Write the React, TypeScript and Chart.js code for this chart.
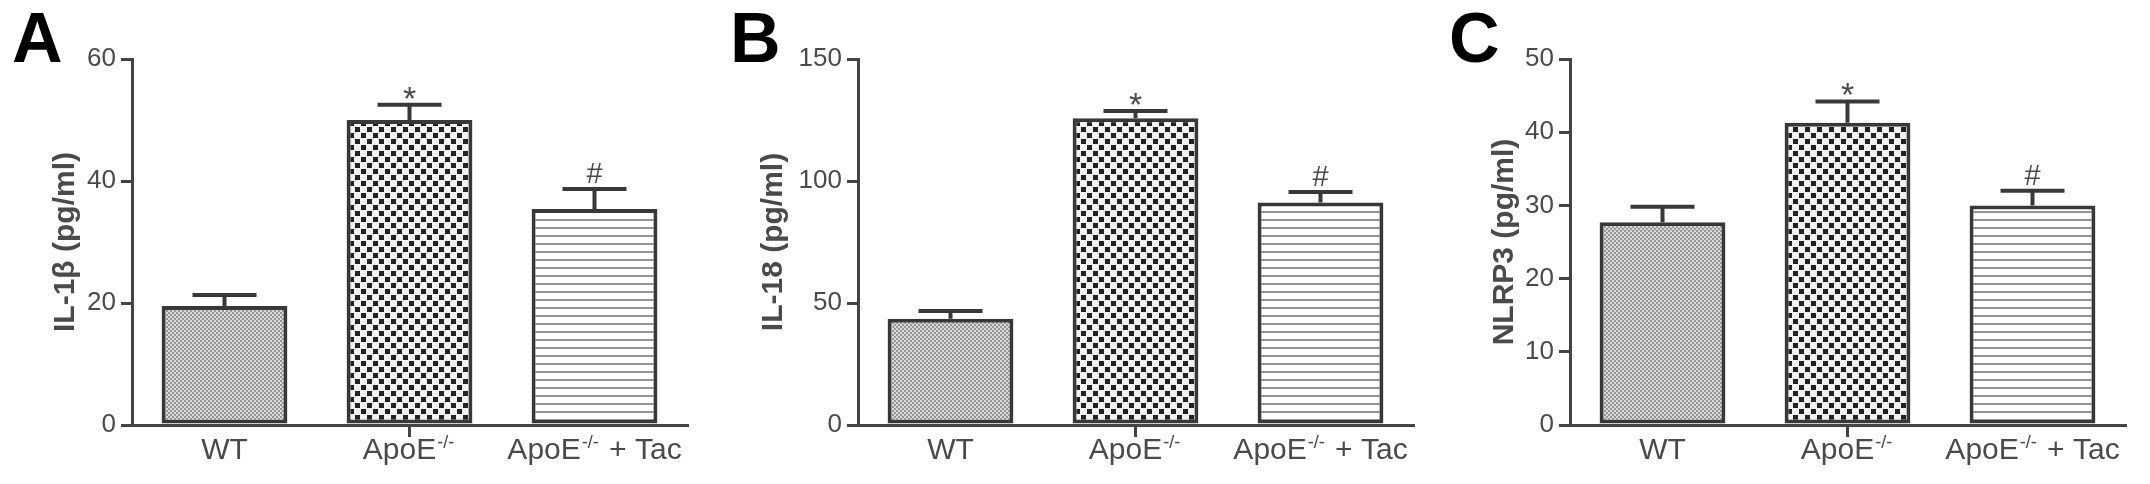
import React, { useEffect, useRef } from 'react';
import { Chart, registerables } from 'chart.js';

Chart.register(...registerables);

// ---------- data ----------
const categories = ['WT', 'ApoE-/-', 'ApoE-/- + Tac'];
const panelLetters = ['A', 'B', 'C'];
const axisTitles = ['IL-1β (pg/ml)', 'IL-18 (pg/ml)', 'NLRP3 (pg/ml)'];

const il1bMeans = [19.5, 50.0, 35.4];
const il1bErrors = [1.8, 2.5, 3.3];
const il18Means = [43.5, 125.7, 91.2];
const il18Errors = [3.2, 3.0, 4.3];
const nlrp3Means = [27.7, 41.3, 30.0];
const nlrp3Errors = [2.1, 2.9, 2.0];

const significance = ['', '*', '#'];

const il1bTicks = [0, 20, 40, 60];
const il18Ticks = [0, 50, 100, 150];
const nlrp3Ticks = [0, 10, 20, 30, 40, 50];

// ---------- style ----------
const FONT = "'Liberation Sans', Arial, Helvetica, sans-serif";
const TEXT = '#4a4a4a';
const AXIS = '#444444';
const BAR_BORDER = '#383838';
const CANVAS_W = 700;
const CANVAS_H = 484;
const panelLeft = [0, 726, 1438];
const titlePad = [48, 30, 49];
const letterLeft = [13, 8, 13];

function makePattern(ctx: CanvasRenderingContext2D, kind: number) {
  const c = document.createElement('canvas');
  const g = c.getContext('2d')!;
  if (kind === 0) {
    c.width = 4; c.height = 4;
    g.fillStyle = '#dadada';
    g.fillRect(0, 0, 4, 4);
    g.fillStyle = '#969696';
    g.fillRect(0, 0, 2, 2);
    g.fillRect(2, 2, 2, 2);
  } else if (kind === 1) {
    c.width = 12; c.height = 12;
    g.fillStyle = '#f2f2f2';
    g.fillRect(0, 0, 12, 12);
    g.fillStyle = '#222222';
    g.fillRect(1, 1, 5, 5);
    g.fillRect(7, 7, 5, 5);
  } else {
    c.width = 8; c.height = 8;
    g.fillStyle = '#ffffff';
    g.fillRect(0, 0, 8, 8);
    g.fillStyle = '#959595';
    g.fillRect(0, 3, 8, 2);
  }
  return ctx.createPattern(c, 'repeat')!;
}

type Panel = {
  means: number[];
  errors: number[];
  ticks: number[];
  title: string;
  letter: string;
  index: number;
};

function drawLabel(ctx: CanvasRenderingContext2D, label: string, cx: number, baseline: number) {
  const mainFont = `30px ${FONT}`;
  const supFont = `18px ${FONT}`;
  const parts = label.split('-/-');
  ctx.fillStyle = TEXT;
  ctx.textBaseline = 'alphabetic';
  ctx.textAlign = 'left';
  if (parts.length === 1) {
    ctx.font = mainFont;
    const w = ctx.measureText(label).width;
    ctx.fillText(label, cx - w / 2, baseline);
    return;
  }
  ctx.font = mainFont;
  const w0 = ctx.measureText(parts[0]).width;
  const w2 = ctx.measureText(parts[1]).width;
  ctx.font = supFont;
  const w1 = ctx.measureText('-/-').width + 3;
  let x = cx - (w0 + w1 + w2) / 2;
  ctx.font = mainFont;
  ctx.fillText(parts[0], x, baseline);
  x += w0 + 1;
  ctx.font = supFont;
  ctx.fillText('-/-', x, baseline - 11);
  x += w1 - 1;
  ctx.font = mainFont;
  ctx.fillText(parts[1], x, baseline);
}

function buildChart(canvas: HTMLCanvasElement, p: Panel) {
  const ctx = canvas.getContext('2d')!;
  const patterns = [0, 1, 2].map((k) => makePattern(ctx, k));
  const overlay = {
    id: 'overlay' + p.index,
    afterDatasetsDraw(chart: any) {
      const c = chart.ctx as CanvasRenderingContext2D;
      const y = chart.scales.y;
      const meta = chart.getDatasetMeta(0);
      c.save();
      c.strokeStyle = BAR_BORDER;
      c.lineWidth = 4;
      c.lineCap = 'butt';
      meta.data.forEach((bar: any, i: number) => {
        const x = bar.x;
        const yTop = y.getPixelForValue(p.means[i]);
        const yCap = y.getPixelForValue(p.means[i] + p.errors[i]);
        c.beginPath();
        c.moveTo(x, yTop);
        c.lineTo(x, yCap);
        c.moveTo(x - 32, yCap);
        c.lineTo(x + 32, yCap);
        c.stroke();
        const mark = significance[i];
        if (mark) {
          c.font = mark === '*' ? `34px ${FONT}` : `29px ${FONT}`;
          c.fillStyle = TEXT;
          c.textAlign = 'center';
          c.textBaseline = 'alphabetic';
          const m = c.measureText(mark);
          const base = yCap - 6 - m.actualBoundingBoxDescent;
          c.fillText(mark, x, base);
        }
      });
      c.restore();
    },
    afterDraw(chart: any) {
      const c = chart.ctx as CanvasRenderingContext2D;
      const xs = chart.scales.x;
      c.save();
      categories.forEach((lab, i) => {
        drawLabel(c, lab, xs.getPixelForValue(i), 459);
      });
      c.font = `bold 70px ${FONT}`;
      c.fillStyle = '#000';
      c.textAlign = 'left';
      c.textBaseline = 'alphabetic';
      const m = c.measureText(p.letter);
      c.fillText(p.letter, letterLeft[p.index] + m.actualBoundingBoxLeft, 62);
      c.restore();
    },
  };

  return new Chart(canvas, {
    type: 'bar',
    data: {
      labels: categories,
      datasets: [
        {
          data: p.means,
          backgroundColor: patterns,
          borderColor: BAR_BORDER,
          borderWidth: 4,
          borderSkipped: false,
          barPercentage: 0.68,
          categoryPercentage: 1,
        },
      ],
    },
    options: {
      responsive: false,
      animation: false,
      events: [],
      layout: { padding: { left: 0, right: 13, top: 59, bottom: 0 } },
      plugins: {
        legend: { display: false },
        tooltip: { enabled: false },
        title: { display: false },
      },
      scales: {
        x: {
          type: 'category',
          offset: true,
          grid: {
            offset: false,
            drawOnChartArea: false,
            drawTicks: true,
            tickLength: 12,
            lineWidth: 3,
            color: (c: any) => (c.index === 1 ? AXIS : 'rgba(0,0,0,0)'),
          },
          border: { display: true, color: AXIS, width: 3 },
          ticks: { display: false },
          afterFit: (s: any) => {
            s.height = 59;
          },
        },
        y: {
          min: p.ticks[0],
          max: p.ticks[p.ticks.length - 1],
          ticks: {
            stepSize: p.ticks[1] - p.ticks[0],
            color: TEXT,
            padding: 5,
            font: { family: FONT, size: 26 },
          },
          grid: {
            drawOnChartArea: false,
            drawTicks: true,
            tickLength: 11,
            lineWidth: 3,
            color: AXIS,
          },
          border: { display: true, color: AXIS, width: 3 },
          title: {
            display: true,
            text: p.title,
            color: TEXT,
            font: { family: FONT, size: 30, weight: 'bold' },
            padding: { top: titlePad[p.index], bottom: 0 },
          },
          afterFit: (s: any) => {
            s.width = 132;
          },
        },
      },
    },
    plugins: [overlay],
  } as any);
}

const panels: Panel[] = [
  { means: il1bMeans, errors: il1bErrors, ticks: il1bTicks, title: axisTitles[0], letter: panelLetters[0], index: 0 },
  { means: il18Means, errors: il18Errors, ticks: il18Ticks, title: axisTitles[1], letter: panelLetters[1], index: 1 },
  { means: nlrp3Means, errors: nlrp3Errors, ticks: nlrp3Ticks, title: axisTitles[2], letter: panelLetters[2], index: 2 },
];

function PanelChart({ p }: { p: Panel }) {
  const ref = useRef<HTMLCanvasElement>(null);
  useEffect(() => {
    if (!ref.current) return;
    const chart = buildChart(ref.current, p);
    return () => chart.destroy();
  }, [p]);
  return (
    <canvas
      ref={ref}
      width={CANVAS_W}
      height={CANVAS_H}
      style={{ position: 'absolute', left: panelLeft[p.index], top: 0, width: CANVAS_W, height: CANVAS_H }}
    />
  );
}

export default function App() {
  return (
    <div style={{ position: 'absolute', left: 0, top: 0, width: 2150, height: 484, background: '#fff', overflow: 'hidden' }}>
      {panels.map((p) => (
        <PanelChart key={p.index} p={p} />
      ))}
    </div>
  );
}
